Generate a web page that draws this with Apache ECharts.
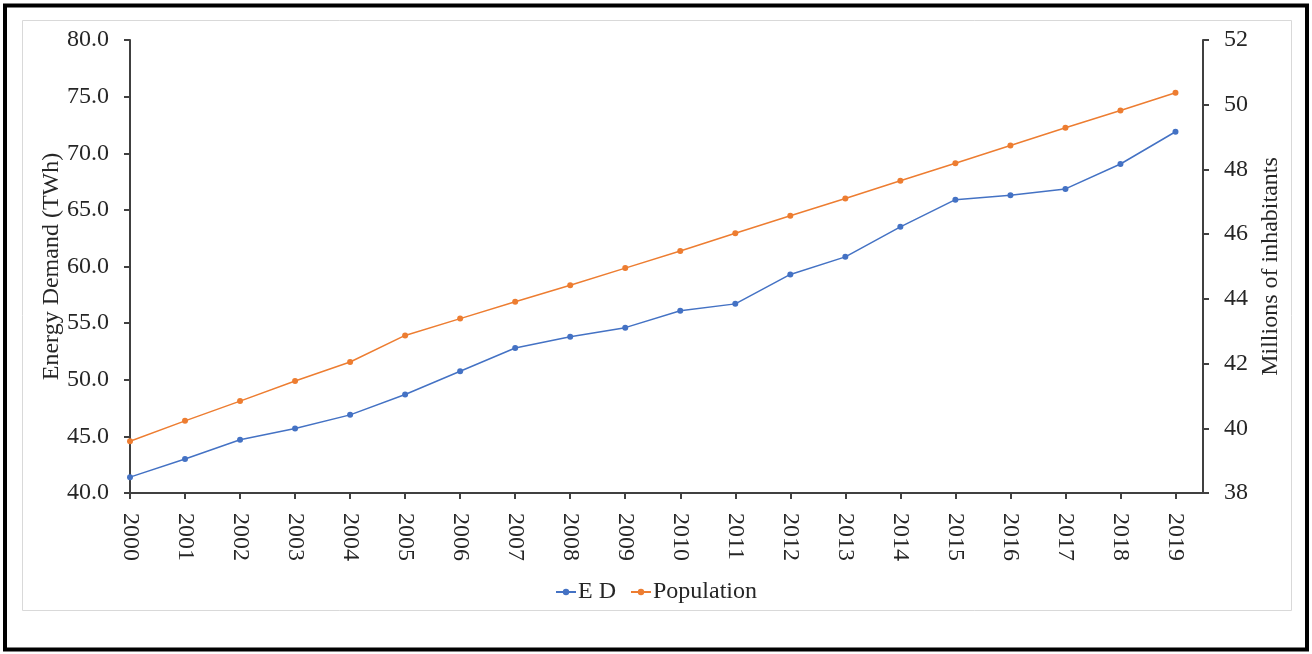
<!DOCTYPE html>
<html>
<head>
<meta charset="utf-8">
<title>Energy Demand and Population</title>
<script src="https://cdn.jsdelivr.net/npm/echarts@6/dist/echarts.min.js"></script>
<style>
  html, body { margin: 0; padding: 0; background: #ffffff; }
  #chart { width: 1312px; height: 654px; }
</style>
</head>
<body>
<div id="chart"></div>
<script>
// Years on the horizontal axis
const years = [2000, 2001, 2002, 2003, 2004, 2005, 2006, 2007, 2008, 2009,
               2010, 2011, 2012, 2013, 2014, 2015, 2016, 2017, 2018, 2019];

// Energy demand, TWh (left axis)
const energyDemand = [41.4, 43.0, 44.7, 45.7, 46.9, 48.7, 50.75, 52.8, 53.8, 54.6,
                      56.1, 56.7, 59.3, 60.85, 63.5, 65.9, 66.3, 66.85, 69.05, 71.9];

// Population, millions of inhabitants (right axis)
const population = [39.6, 40.23, 40.84, 41.46, 42.05, 42.87, 43.39, 43.91, 44.42, 44.95,
                    45.48, 46.03, 46.57, 47.1, 47.65, 48.19, 48.74, 49.29, 49.82, 50.37];

// Series names and axis titles
const seriesNames = ['E D', 'Population'];
const leftAxisTitle = 'Energy Demand (TWh)';
const rightAxisTitle = 'Millions of inhabitants';

const FONT = '"Liberation Serif", "Times New Roman", serif';
const AXIS_COLOR = '#404040';
const TEXT_COLOR = '#262626';
const FONT_SIZE = 24;

const chart = echarts.init(document.getElementById('chart'), null, { renderer: 'canvas' });

const pair = (vals) => years.map((y, i) => [y, vals[i]]);

chart.setOption({
  animation: false,
  backgroundColor: '#ffffff',
  textStyle: { fontFamily: FONT },
  graphic: [
    {
      type: 'rect',
      shape: { x: 5, y: 5.5, width: 1302, height: 644 },
      style: { fill: 'none', stroke: '#000000', lineWidth: 4 },
      z: -10
    },
    {
      type: 'rect',
      shape: { x: 22.5, y: 20.5, width: 1269, height: 590 },
      style: { fill: 'none', stroke: '#d9d9d9', lineWidth: 1 },
      z: -10
    }
  ],
  grid: { left: 130, right: 109, top: 40, bottom: 161, containLabel: false },
  legend: {
    data: seriesNames,
    left: 'center',
    top: 575,
    itemWidth: 20,
    itemHeight: 8,
    itemGap: 14,
    textStyle: { fontFamily: FONT, fontSize: FONT_SIZE, color: TEXT_COLOR, padding: [0, 0, 0, -3] }
  },
  xAxis: {
    type: 'value',
    min: 2000,
    max: 2019.5,
    interval: 1,
    splitLine: { show: false },
    axisLine: { show: true, onZero: false, lineStyle: { color: AXIS_COLOR, width: 2 } },
    axisTick: { show: true, length: 6, customValues: years, lineStyle: { color: AXIS_COLOR, width: 2 } },
    axisLabel: {
      customValues: years,
      rotate: -90,
      margin: 20,
      fontFamily: FONT,
      fontSize: FONT_SIZE,
      color: TEXT_COLOR,
      formatter: (v) => String(v)
    }
  },
  yAxis: [
    {
      type: 'value',
      min: 40,
      max: 80,
      interval: 5,
      position: 'left',
      name: leftAxisTitle,
      nameLocation: 'middle',
      nameRotate: 90,
      nameGap: 66,
      nameMoveOverlap: false,
      nameTextStyle: { fontFamily: FONT, fontSize: FONT_SIZE, color: TEXT_COLOR },
      splitLine: { show: false },
      axisLine: { show: true, lineStyle: { color: AXIS_COLOR, width: 2 } },
      axisTick: { show: true, length: 6, lineStyle: { color: AXIS_COLOR, width: 2 } },
      axisLabel: {
        margin: 21,
        fontFamily: FONT,
        fontSize: FONT_SIZE,
        color: TEXT_COLOR,
        formatter: (v) => v.toFixed(1)
      }
    },
    {
      type: 'value',
      min: 38,
      max: 52,
      interval: 2,
      position: 'right',
      name: rightAxisTitle,
      nameLocation: 'middle',
      nameRotate: 90,
      nameGap: 56,
      nameMoveOverlap: false,
      nameTextStyle: { fontFamily: FONT, fontSize: FONT_SIZE, color: TEXT_COLOR },
      splitLine: { show: false },
      axisLine: { show: true, lineStyle: { color: AXIS_COLOR, width: 2 } },
      axisTick: { show: true, length: 6, lineStyle: { color: AXIS_COLOR, width: 2 } },
      axisLabel: {
        margin: 21,
        fontFamily: FONT,
        fontSize: FONT_SIZE,
        color: TEXT_COLOR
      }
    }
  ],
  series: [
    {
      name: seriesNames[0],
      type: 'line',
      yAxisIndex: 0,
      data: pair(energyDemand),
      symbol: 'circle',
      symbolSize: 6,
      lineStyle: { color: '#4472C4', width: 1.5 },
      itemStyle: { color: '#4472C4' }
    },
    {
      name: seriesNames[1],
      type: 'line',
      yAxisIndex: 1,
      data: pair(population),
      symbol: 'circle',
      symbolSize: 6,
      lineStyle: { color: '#ED7D31', width: 1.5 },
      itemStyle: { color: '#ED7D31' }
    }
  ]
});
</script>
</body>
</html>
